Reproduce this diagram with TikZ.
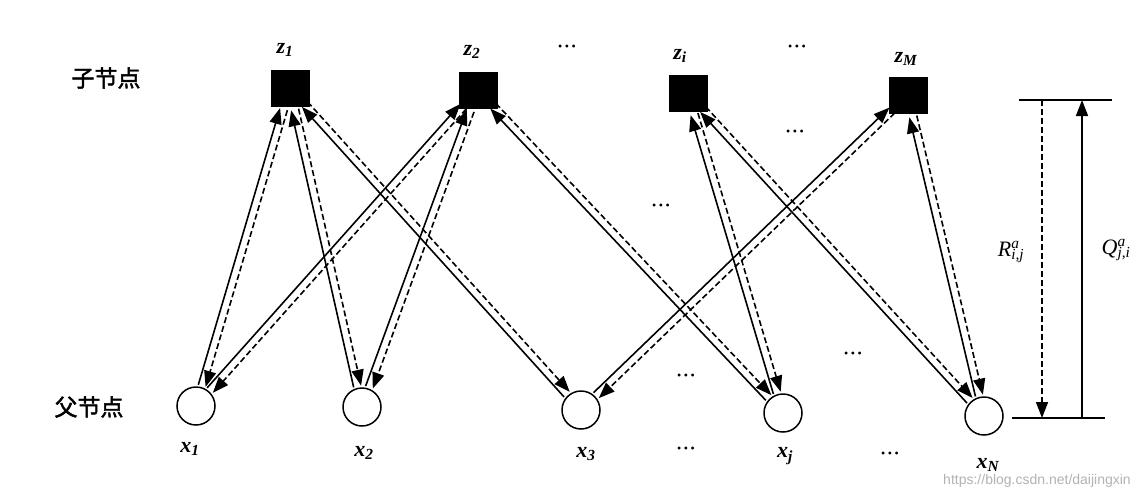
\documentclass[tikz,border=0pt]{standalone}
\usepackage{fontspec}
\usetikzlibrary{calc,arrows.meta}
\newfontfamily\cjk{Noto Sans CJK SC}[FakeBold=2]
\newfontfamily\lab{Liberation Serif}
\newfontfamily\wmfont{Liberation Sans}
\tikzset{
  check/.style={fill=black, minimum width=39pt, minimum height=37pt, inner sep=0pt},
  var/.style={circle, draw, line width=1.5pt, minimum size=38pt, inner sep=0pt, fill=white},
  qline/.style={line width=1.6pt, -{Triangle[length=16pt,width=12pt]}},
  rline/.style={qline, dash pattern=on 6pt off 3pt},
  lbl/.style={font=\fontsize{22}{24}\selectfont\lab\bfseries\itshape, inner sep=0pt},
  leglbl/.style={font=\fontsize{22}{24}\selectfont\lab\itshape, inner sep=0pt},
  dotsl/.style={font=\fontsize{12}{14}\selectfont\lab, inner sep=0pt},
  cn/.style={font=\fontsize{23}{25}\selectfont\cjk, inner sep=0pt},
  legend/.style={line width=1.6pt},
  wm/.style={font=\fontsize{14}{16}\selectfont\wmfont, text=black!30, inner sep=0pt},
}
\newcommand\mydots{\textbullet\hspace{2.5pt}\textbullet\hspace{2.5pt}\textbullet}
% #1 = check node (z), #2 = variable node (x)
\newcommand\msgpair[2]{%
  \draw[qline] ($(#2)!21pt!(#1)!3.8pt!90:(#1)$) -- ($(#1)!22pt!(#2)!3.8pt!-90:(#2)$);
  \draw[rline] ($(#1)!22pt!(#2)!3.8pt!90:(#2)$) -- ($(#2)!21pt!(#1)!3.8pt!-90:(#1)$);
}
\begin{document}
\begin{tikzpicture}[x=1pt,y=-1pt]
\useasboundingbox (0,0) rectangle (1148,499);

% check nodes
\node[check] (z1) at (290,88) {};
\node[check] (z2) at (478,90) {};
\node[check] (zi) at (688,93) {};
\node[check] (zM) at (908,95) {};

% variable nodes
\node[var] (x1) at (196,406) {};
\node[var] (x2) at (362,407) {};
\node[var] (x3) at (581,410) {};
\node[var] (xj) at (783,413) {};
\node[var] (xN) at (984,416) {};

% edges
\msgpair{z1}{x1}
\msgpair{z1}{x2}
\msgpair{z1}{x3}
\msgpair{z2}{x1}
\msgpair{z2}{x2}
\msgpair{z2}{xj}
\msgpair{zi}{xj}
\msgpair{zi}{xN}
\msgpair{zM}{x3}
\msgpair{zM}{xN}

% labels of check nodes
\node[lbl] (lz1) at (285,50) {z\textsubscript{1}};
\node[lbl] (lz2) at (472,52) {z\textsubscript{2}};
\node[lbl] (lzi) at (680,56) {z\textsubscript{i}};
\node[lbl] (lzM) at (906,59) {z\textsubscript{M}};
\node[dotsl] (d1) at (567,48) {\mydots};
\node[dotsl] (d2) at (797,48) {\mydots};

% labels of variable nodes
\node[lbl] (lx1) at (190,449) {x\textsubscript{1}};
\node[lbl] (lx2) at (364,453) {x\textsubscript{2}};
\node[lbl] (lx3) at (586,454) {x\textsubscript{3}};
\node[lbl] (lxj) at (785,456) {x\textsubscript{j}};
\node[lbl] (lxN) at (988,465) {x\textsubscript{N}};
\node[dotsl] (d3) at (686,450) {\mydots};
\node[dotsl] (d4) at (890,455) {\mydots};

% other dots
\node[dotsl] (d5) at (661,207) {\mydots};
\node[dotsl] (d6) at (795,133) {\mydots};
\node[dotsl] (d7) at (686,377) {\mydots};
\node[dotsl] (d8) at (853,355) {\mydots};

% row labels
\node[cn] (child) at (106,78) {子节点};
\node[cn] (parent) at (89,407) {父节点};

% legend
\coordinate (tl) at (1019,100);
\coordinate (tr) at (1112,100);
\coordinate (bl) at (1012,418);
\coordinate (br) at (1105,418);
\coordinate (rt) at (1042,100);
\coordinate (rb) at (1042,418);
\coordinate (qt) at (1082,100);
\coordinate (qb) at (1082,418);
\draw[legend] (tl) -- (tr);
\draw[legend] (bl) -- (br);
\draw[rline] (rt) -- (rb);
\draw[qline] (qb) -- (qt);
\node[leglbl] (R) at (1011,252) {R\rlap{\textsuperscript{a}}\textsubscript{i,j}};
\node[leglbl] (Q) at (1116,250) {Q\rlap{\textsuperscript{a}}\textsubscript{j,i}};

% watermark
\node[wm] (w) at (1037,481) {https://blog.csdn.net/daijingxin};
\end{tikzpicture}
\end{document}
